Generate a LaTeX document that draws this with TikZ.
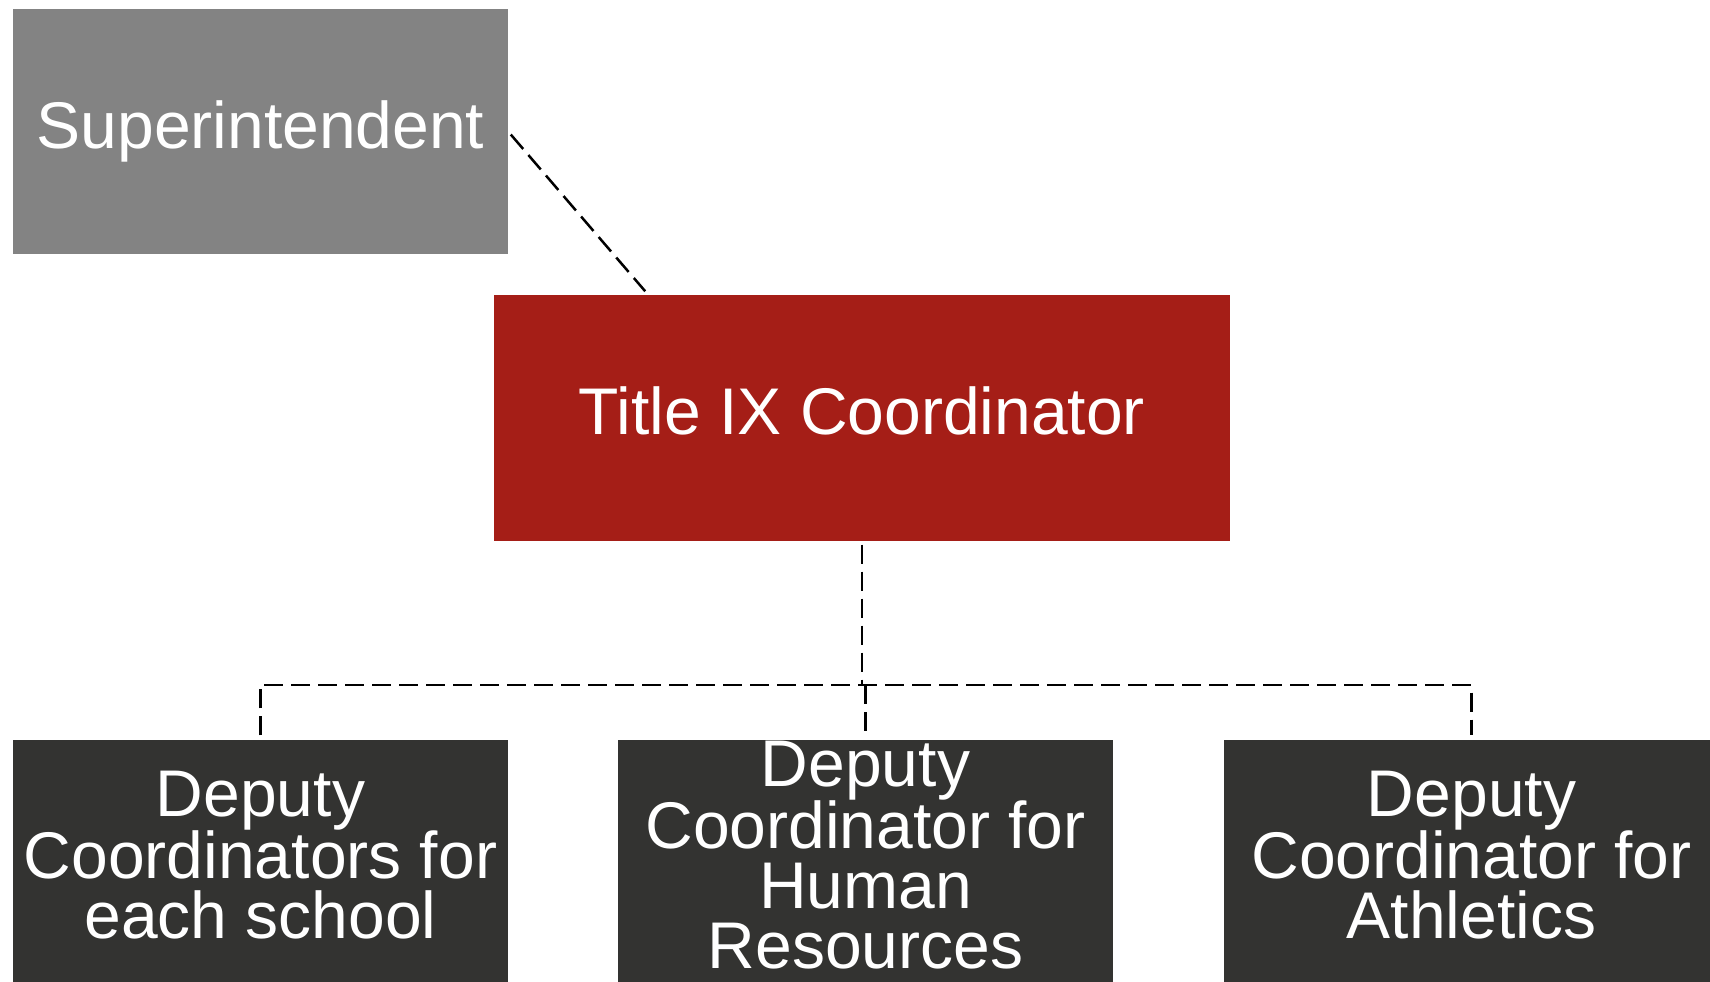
\documentclass[tikz,border=0pt]{standalone}
\usepackage{fontspec}
\setmainfont{Liberation Sans}
\usetikzlibrary{calc}
\definecolor{supgrey}{RGB}{131,131,131}
\definecolor{titlered}{RGB}{165,30,23}
\definecolor{deputydark}{RGB}{51,51,49}
\begin{document}
\begin{tikzpicture}[x=1pt,y=-1pt,
  box/.style={rectangle, inner sep=0pt, text=white, align=center,
    minimum width=495pt, minimum height=245pt,
    font=\fontsize{66}{60}\selectfont},
  single/.style={text height=48pt, text depth=14pt},
  multi/.style={text depth=14pt},
  link/.style={draw=black, line width=2.5pt, dash pattern=on 19pt off 8pt,
    shorten <=4pt, shorten >=4pt}]
  \useasboundingbox (0,0) rectangle (1710,982);
  \clip (0,0) rectangle (1710,982);

  % top of the chart
  \node[box, single, fill=supgrey] (sup) at (260.5,131.5) {Superintendent};
  \node[box, single, fill=titlered, minimum width=736pt, minimum height=246pt]
    (title) at (862,417.5) {Title IX Coordinator};

  % deputies
  \node[box, multi, fill=deputydark] (d1) at (260.5,862)
    {Deputy\\Coordinators for\\each school};
  \node[box, multi, fill=deputydark] (d2) at (865.5,862)
    {Deputy\\Coordinator for\\Human\\Resources};
  \node[box, multi, fill=deputydark] (d3) at (1471.5,862)
    {Deputy\\Coordinator for\\Athletics};

  % connectors
  \coordinate (bus) at (0,685);
  \coordinate (tin) at ($(title.north west)+(154,0)$);
  \draw[link] (sup.east) -- (tin);
  \draw[link, shorten >=0pt] (title.south) -- (title.south |- bus);
  \draw[link] (d1.north) -- (d1.north |- bus) -- (d3.north |- bus) -- (d3.north);
  \draw[link, shorten <=0pt] (d2.north |- bus) -- (d2.north);
\end{tikzpicture}
\end{document}
